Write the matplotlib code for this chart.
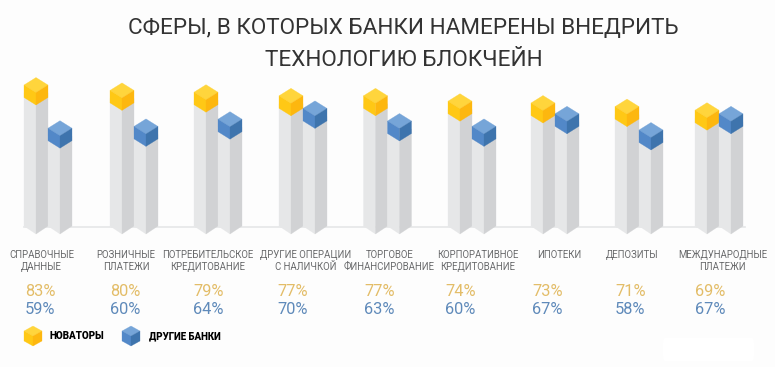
import matplotlib
matplotlib.use('Agg')
import matplotlib.pyplot as plt
from matplotlib.patches import Polygon, FancyBboxPatch

# data
categories = [
    'СПРАВОЧНЫЕ\nДАННЫЕ', 'РОЗНИЧНЫЕ\nПЛАТЕЖИ', 'ПОТРЕБИТЕЛЬСКОЕ\nКРЕДИТОВАНИЕ',
    'ДРУГИЕ ОПЕРАЦИИ\nС НАЛИЧКОЙ', 'ТОРГОВОЕ\nФИНАНСИРОВАНИЕ', 'КОРПОРАТИВНОЕ\nКРЕДИТОВАНИЕ',
    'ИПОТЕКИ', 'ДЕПОЗИТЫ', 'МЕЖДУНАРОДНЫЕ\nПЛАТЕЖИ',
]
innovators = [83, 80, 79, 77, 77, 74, 73, 71, 69]
other_banks = [59, 60, 64, 70, 63, 60, 67, 58, 67]
series_names = ['НОВАТОРЫ', 'ДРУГИЕ БАНКИ']

# layout, in pixels of the 775x367 picture
group_x = [36, 122, 206, 291, 375.5, 460, 543, 627, 707]
label_x = [41.5, 126, 208, 305.5, 389.5, 477.5, 559, 632.5, 722.5]
pct_x = [25, 110, 193.5, 277, 364, 445, 532, 615, 695]
HALF_W = 12
PX_PER_PCT = 1.8
BG = '#fdfdfd'
YELLOW = ('#ffd53c', '#ffc815', '#fdb70f')
BLUE = ('#76a5d8', '#5288c8', '#3e74ad')
FONT = ['Roboto', 'DejaVu Sans']


def val(py):
    """picture pixel row -> value on the y axis"""
    return 83 - (py - 105) / PX_PER_PCT


def box(ax, cx, hw, front_py, side_dy, colors):
    left, right = colors
    top_py, bot_py = front_py
    ax.add_patch(Polygon([(cx - hw, val(top_py - side_dy)), (cx, val(top_py)),
                          (cx, val(bot_py)), (cx - hw, val(bot_py - side_dy))],
                         fc=left, ec=left, lw=0.2))
    ax.add_patch(Polygon([(cx + hw, val(top_py - side_dy)), (cx, val(top_py)),
                          (cx, val(bot_py)), (cx + hw, val(bot_py - side_dy))],
                         fc=right, ec=right, lw=0.2))


def cube(ax, cx, bottom_py, colors, hw=HALF_W, side_dy=7.5, height=12.5):
    top, left, right = colors
    front = bottom_py - height
    ax.add_patch(Polygon([(cx, val(front)), (cx - hw, val(front - side_dy)),
                          (cx, val(front - 2 * side_dy)), (cx + hw, val(front - side_dy))],
                         fc=top, ec=top, lw=0.2))
    box(ax, cx, hw, (front, bottom_py), side_dy, (left, right))


def column(ax, cx, value, colors):
    bottom_py = 105 + (83 - value) * PX_PER_PCT
    box(ax, cx, HALF_W, (bottom_py - 4, 234), 8, ('#e6e7e8', '#d1d2d4'))
    cube(ax, cx, bottom_py, colors)


fig = plt.figure(figsize=(7.75, 3.67), dpi=100, facecolor=BG)
ax = fig.add_axes([0, 0, 1, 1])
ax.set_xlim(0, 775)
ax.set_ylim(val(367), val(0))
ax.axis('off')

# white patch in the lower right corner
ax.add_patch(FancyBboxPatch((666, val(356)), 85, val(343) - val(356),
                            boxstyle='round,pad=3', fc='#ffffff', ec='none'))

ax.plot([24, 745], [val(226.5), val(226.5)], color='#e6e7e8', lw=1.2, zorder=0)

for x, a, b in zip(group_x, innovators, other_banks):
    column(ax, x, a, YELLOW)
    column(ax, x + 2 * HALF_W, b, BLUE)

for x, name in zip(label_x, categories):
    ax.text(x, val(250.5), name, ha='center', va='top', fontsize=6.9, color='#6a6b6d',
            family=FONT, linespacing=1.2)

for x, a, b in zip(pct_x, innovators, other_banks):
    ax.text(x, val(291), f'{a}%', ha='left', va='center', fontsize=11.8,
            color='#e3bd68', family=FONT)
    ax.text(x, val(309), f'{b}%', ha='left', va='center', fontsize=11.8,
            color='#5f8aba', family=FONT)

ax.text(403, val(28), 'СФЕРЫ, В КОТОРЫХ БАНКИ НАМЕРЕНЫ ВНЕДРИТЬ', ha='center', va='center',
        fontsize=16.2, color='#333333', family=FONT)
ax.text(404, val(60), 'ТЕХНОЛОГИЮ БЛОКЧЕЙН', ha='center', va='center',
        fontsize=16.2, color='#333333', family=FONT)

# legend
cube(ax, 33, 346, YELLOW, hw=9, side_dy=5, height=10)
cube(ax, 131, 346, BLUE, hw=9, side_dy=5, height=10)
ax.text(49, val(336), series_names[0], ha='left', va='center', fontsize=7.1,
        color='#000000', family=FONT, weight='black')
ax.text(149, val(336), series_names[1], ha='left', va='center', fontsize=7.0,
        color='#000000', family=FONT, weight='black')

fig.savefig('out.png', dpi=100, facecolor=BG)
